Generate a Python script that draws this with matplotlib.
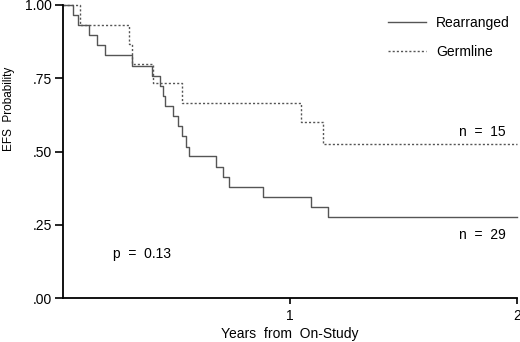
import matplotlib.pyplot as plt
from matplotlib.lines import Line2D

plt.rcParams['font.family'] = ['Liberation Sans', 'DejaVu Sans']

# Kaplan-Meier steps (years, EFS probability)
rearr_t = [0.0, 0.044, 0.066, 0.115, 0.150, 0.185, 0.304, 0.392, 0.427, 0.441,
           0.449, 0.485, 0.507, 0.524, 0.542, 0.555, 0.676, 0.705, 0.731,
           0.881, 1.093, 1.167, 2.0]
rearr_s = [1.0, 0.966, 0.931, 0.897, 0.862, 0.828, 0.793, 0.759, 0.724, 0.690,
           0.655, 0.621, 0.586, 0.552, 0.517, 0.483, 0.448, 0.414, 0.379,
           0.345, 0.310, 0.276, 0.276]
germ_t = [0.0, 0.075, 0.291, 0.304, 0.396, 0.524, 1.048, 1.145, 2.0]
germ_s = [1.0, 0.933, 0.867, 0.800, 0.733, 0.667, 0.600, 0.524, 0.524]

yticks = [0.0, 0.25, 0.5, 0.75, 1.0]
ylabels = ['.00', '.25', '.50', '.75', '1.00']
xticks = [1, 2]

fig = plt.figure(figsize=(5.2, 3.42), dpi=100)
ax = fig.add_axes([63 / 520, 44 / 342, 454 / 520, 293 / 342])

ax.step(rearr_t, rearr_s, where='post', color='#555555', lw=1.0, clip_on=False)
ax.step(germ_t, germ_s, where='post', color='#555555', lw=1.0,
        linestyle=(0, (1.5, 1.5)), clip_on=False)

ax.set_xlim(0, 2)
ax.set_ylim(0, 1)
ax.set_xticks(xticks)
ax.set_xticklabels([str(x) for x in xticks])
ax.set_yticks(yticks)
ax.set_yticklabels(ylabels)
ax.spines['top'].set_visible(False)
ax.spines['right'].set_visible(False)
ax.spines['left'].set_linewidth(1.3)
ax.spines['bottom'].set_linewidth(1.3)
ax.tick_params(axis='y', length=6, width=1.2, labelsize=10, pad=2)
ax.tick_params(axis='x', length=4, width=1.2, labelsize=10, pad=4)

ax.set_xlabel('Years  from  On-Study', fontsize=10, labelpad=3)
fig.text(9 / 520, 1 - 109 / 342, 'EFS  Probability', rotation=90,
         ha='center', va='center', fontsize=8.5)

ax.text(1.95, 0.565, 'n  =  15', ha='right', va='center', fontsize=10)
ax.text(1.95, 0.215, 'n  =  29', ha='right', va='center', fontsize=10)
ax.text(0.22, 0.15, 'p  =  0.13', ha='left', va='center', fontsize=10)

handles = [Line2D([], [], color='#555555', lw=1.0),
           Line2D([], [], color='#555555', lw=1.0, linestyle=(0, (1.5, 1.5)))]
ax.legend(handles, ['Rearranged', 'Germline'], frameon=False, fontsize=10,
          loc='upper right', bbox_to_anchor=(1.012, 1.005), handlelength=2.8,
          handletextpad=0.7, labelspacing=1.1)

fig.savefig('out.png', dpi=100)
